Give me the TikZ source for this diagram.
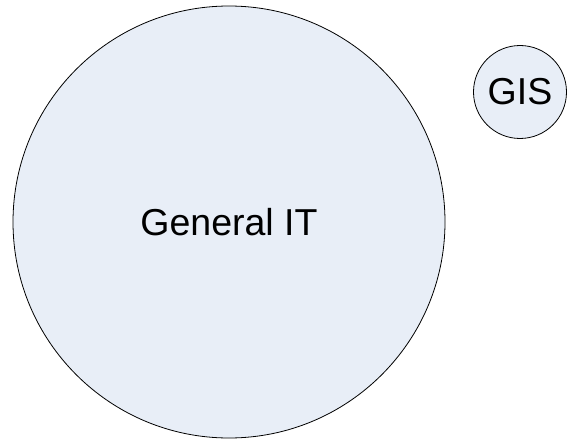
\documentclass[tikz,border=0pt]{standalone}
\usepackage{fontspec}
\setmainfont{Liberation Sans}
\usetikzlibrary{positioning}
\definecolor{bubblefill}{RGB}{232,238,247}
\tikzset{bubble/.style={circle, draw=black, line width=0.8pt, fill=bubblefill, inner sep=0pt, font=\fontsize{37.5}{40}\selectfont}}
\begin{document}
\begin{tikzpicture}[x=1pt,y=1pt]
    \useasboundingbox (0,0) rectangle (567,440);                         % fix the margins
    \node [bubble, minimum size=432pt] (general) at (229,218) {General IT}; % large circle
    \node [bubble, minimum size=93pt] (gis) at (520,348) {GIS};            % small circle
\end{tikzpicture}
\end{document}
